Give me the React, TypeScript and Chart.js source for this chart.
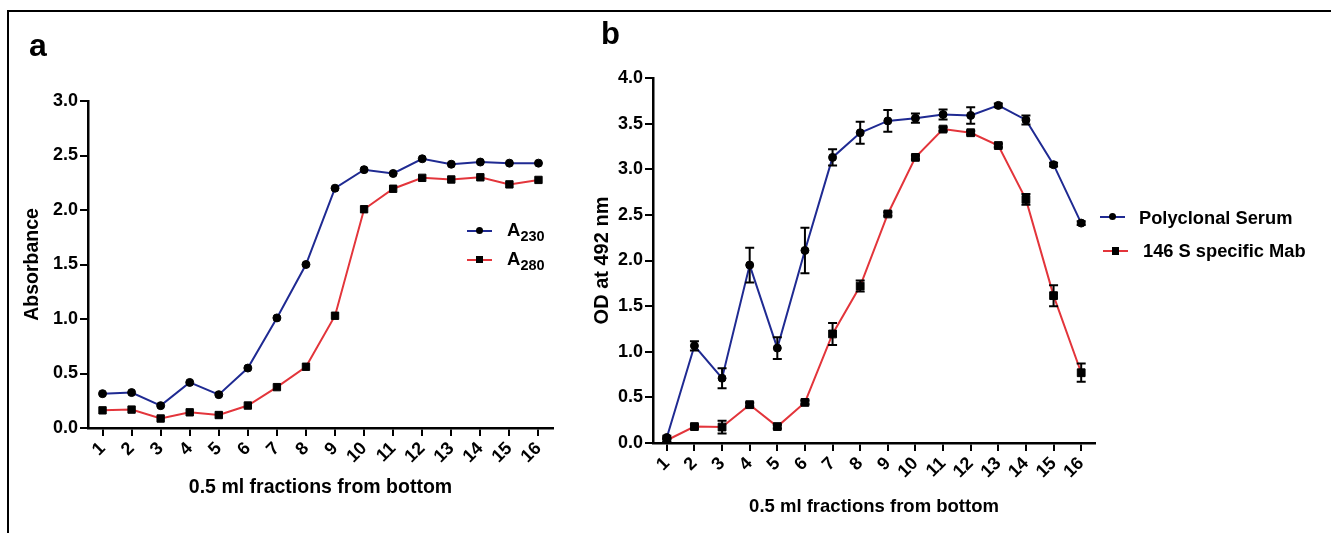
import React, { useEffect, useRef } from 'react';
import { Chart, registerables } from 'chart.js';

Chart.register(...registerables);

// ---------- data ----------
const fractions = ['1', '2', '3', '4', '5', '6', '7', '8', '9', '10', '11', '12', '13', '14', '15', '16'];

// panel a
const a230 = [0.315, 0.325, 0.205, 0.418, 0.306, 0.55, 1.01, 1.5, 2.2, 2.37, 2.335, 2.47, 2.42, 2.44, 2.43, 2.43];
const a280 = [0.162, 0.169, 0.087, 0.144, 0.119, 0.206, 0.375, 0.562, 1.03, 2.007, 2.195, 2.295, 2.28, 2.3, 2.235, 2.276];

// panel b
const polyclonal = [0.06, 1.065, 0.71, 1.95, 1.04, 2.11, 3.13, 3.4, 3.53, 3.56, 3.6, 3.59, 3.7, 3.54, 3.05, 2.41];
const polyclonalErr = [0.02, 0.05, 0.11, 0.19, 0.12, 0.25, 0.09, 0.12, 0.12, 0.05, 0.055, 0.09, 0.02, 0.05, 0.02, 0.02];
const mab = [0.03, 0.18, 0.175, 0.42, 0.18, 0.445, 1.195, 1.72, 2.51, 3.13, 3.44, 3.4, 3.26, 2.67, 1.615, 0.77];
const mabErr = [0.02, 0.02, 0.07, 0.02, 0.02, 0.02, 0.12, 0.06, 0.02, 0.02, 0.02, 0.02, 0.02, 0.06, 0.115, 0.1];

const BLUE = '#1f2a92';
const RED = '#e3353b';
const FONT = '"Liberation Sans", Arial, Helvetica, sans-serif';

// ---------- error bar plugin ----------
const errorBarPlugin = {
  id: 'errorBars',
  afterDatasetsDraw(chart: any) {
    const ctx = chart.ctx;
    const yScale = chart.scales.y;
    chart.data.datasets.forEach((ds: any, i: number) => {
      const errs: number[] | undefined = ds.errors;
      if (!errs) return;
      const meta = chart.getDatasetMeta(i);
      meta.data.forEach((pt: any, j: number) => {
        const e = errs[j];
        if (!e) return;
        const v = ds.data[j];
        const top = yScale.getPixelForValue(v + e);
        const bot = yScale.getPixelForValue(v - e);
        ctx.save();
        ctx.strokeStyle = '#000';
        ctx.lineWidth = 2;
        ctx.beginPath();
        ctx.moveTo(pt.x, top);
        ctx.lineTo(pt.x, bot);
        ctx.moveTo(pt.x - 4.5, top);
        ctx.lineTo(pt.x + 4.5, top);
        ctx.moveTo(pt.x - 4.5, bot);
        ctx.lineTo(pt.x + 4.5, bot);
        ctx.stroke();
        ctx.restore();
      });
    });
  },
};

type PanelOpts = {
  yMax: number;
  yTitle: string;
  yTitleSize: number;
  yTitlePad: number;
  xTitleSize: number;
  yWidth: number;
  xHeight: number;
  padding: { left: number; right: number; top: number; bottom: number };
  datasets: any[];
};

function makeConfig(o: PanelOpts): any {
  return {
    type: 'line',
    data: { labels: fractions, datasets: o.datasets },
    plugins: [errorBarPlugin],
    options: {
      animation: false,
      responsive: false,
      maintainAspectRatio: false,
      layout: { padding: o.padding },
      plugins: { legend: { display: false }, tooltip: { enabled: false } },
      elements: { line: { tension: 0 } },
      scales: {
        x: {
          type: 'category',
          offset: true,
          afterFit: (s: any) => {
            s.height = o.xHeight;
          },
          grid: {
            display: true,
            drawOnChartArea: false,
            drawTicks: true,
            tickLength: 8,
            color: '#000',
            lineWidth: 2,
            offset: false,
          },
          border: { display: true, color: '#000', width: 2.5 },
          ticks: {
            autoSkip: false,
            maxRotation: 45,
            minRotation: 45,
            padding: 2,
            color: '#000',
            font: { family: FONT, size: 18, weight: 'bold' },
          },
          title: {
            display: true,
            text: '0.5 ml fractions from bottom',
            color: '#000',
            padding: { top: 0, bottom: 0 },
            font: { family: FONT, size: o.xTitleSize, weight: 'bold' },
          },
        },
        y: {
          type: 'linear',
          min: 0,
          max: o.yMax,
          afterFit: (s: any) => {
            s.width = o.yWidth;
          },
          grid: {
            display: true,
            drawOnChartArea: false,
            drawTicks: true,
            tickLength: 8,
            color: '#000',
            lineWidth: 2,
          },
          border: { display: true, color: '#000', width: 2.5 },
          ticks: {
            stepSize: 0.5,
            padding: 2,
            color: '#000',
            font: { family: FONT, size: 18, weight: 'bold' },
            callback: (v: any) => Number(v).toFixed(1),
          },
          title: {
            display: true,
            text: o.yTitle,
            color: '#000',
            padding: { top: o.yTitlePad, bottom: 0 },
            font: { family: FONT, size: o.yTitleSize, weight: 'bold' },
          },
        },
      },
    },
  };
}

function ChartCanvas(props: { config: () => any; left: number; width: number; height: number }) {
  const ref = useRef<HTMLCanvasElement | null>(null);
  useEffect(() => {
    if (!ref.current) return;
    const chart = new Chart(ref.current, props.config());
    return () => chart.destroy();
  }, []);
  return (
    <canvas
      ref={ref}
      width={props.width}
      height={props.height}
      style={{ position: 'absolute', left: props.left, top: 0, width: props.width, height: props.height }}
    />
  );
}

const panelA = () =>
  makeConfig({
    yMax: 3,
    yTitle: 'Absorbance',
    yTitleSize: 19.5,
    yTitlePad: 1,
    xTitleSize: 19.5,
    yWidth: 68,
    xHeight: 71,
    padding: { left: 20, right: 37, top: 101, bottom: 34 },
    datasets: [
      {
        label: 'A230',
        data: a230,
        borderColor: BLUE,
        borderWidth: 2,
        pointStyle: 'circle',
        pointRadius: 4,
        pointBackgroundColor: '#000',
        pointBorderColor: '#000',
        pointBorderWidth: 1,
      },
      {
        label: 'A280',
        data: a280,
        borderColor: RED,
        borderWidth: 2,
        pointStyle: 'rect',
        pointRadius: 5.2,
        pointBackgroundColor: '#000',
        pointBorderColor: '#000',
        pointBorderWidth: 1,
      },
    ],
  });

const panelB = () =>
  makeConfig({
    yMax: 4,
    yTitle: 'OD at 492 nm',
    yTitleSize: 20,
    yTitlePad: 0,
    xTitleSize: 18.5,
    yWidth: 63,
    xHeight: 75,
    padding: { left: 0, right: 236, top: 78, bottom: 15 },
    datasets: [
      {
        label: 'Polyclonal Serum',
        data: polyclonal,
        errors: polyclonalErr,
        borderColor: BLUE,
        borderWidth: 2,
        pointStyle: 'circle',
        pointRadius: 4,
        pointBackgroundColor: '#000',
        pointBorderColor: '#000',
        pointBorderWidth: 1,
      },
      {
        label: '146 S specific Mab',
        data: mab,
        errors: mabErr,
        borderColor: RED,
        borderWidth: 2,
        pointStyle: 'rect',
        pointRadius: 5.5,
        pointBackgroundColor: '#000',
        pointBorderColor: '#000',
        pointBorderWidth: 1,
      },
    ],
  });

function LegendLine(p: { x: number; y: number; w: number; color: string; marker: 'circle' | 'square'; size: number }) {
  return (
    <>
      <div style={{ position: 'absolute', left: p.x, top: p.y - 1, width: p.w, height: 2, background: p.color }} />
      <div
        style={{
          position: 'absolute',
          left: p.x + p.w / 2 - p.size / 2,
          top: p.y - p.size / 2,
          width: p.size,
          height: p.size,
          background: '#000',
          borderRadius: p.marker === 'circle' ? '50%' : 0,
        }}
      />
    </>
  );
}

const textStyle = (left: number, top: number, size: number): React.CSSProperties => ({
  position: 'absolute',
  left,
  top,
  fontFamily: FONT,
  fontWeight: 'bold',
  fontSize: size,
  lineHeight: `${size}px`,
  whiteSpace: 'nowrap',
  color: '#000',
});

export default function App() {
  return (
    <div style={{ position: 'absolute', left: 0, top: 0, width: 1331, height: 533, background: '#fff', overflow: 'hidden' }}>
      {/* frame */}
      <div style={{ position: 'absolute', left: 7, top: 10, width: 1324, height: 2, background: '#000' }} />
      <div style={{ position: 'absolute', left: 7, top: 10, width: 2, height: 523, background: '#000' }} />

      <ChartCanvas config={panelA} left={0} width={590} height={533} />
      <ChartCanvas config={panelB} left={590} width={741} height={533} />

      {/* panel labels */}
      <div style={{ ...textStyle(29, 29, 32), fontWeight: 900 }}>a</div>
      <div style={{ ...textStyle(601, 18, 31), fontWeight: 900 }}>b</div>

      {/* legend a */}
      <LegendLine x={467} y={230.5} w={25} color={BLUE} marker="circle" size={7} />
      <LegendLine x={467} y={259.5} w={25} color={RED} marker="square" size={7.5} />
      <div style={textStyle(507, 221, 18.5)}>
        A<span style={{ fontSize: 14.5, position: 'relative', top: 5 }}>230</span>
      </div>
      <div style={textStyle(507, 250, 18.5)}>
        A<span style={{ fontSize: 14.5, position: 'relative', top: 5 }}>280</span>
      </div>

      {/* legend b */}
      <LegendLine x={1100} y={216.7} w={25} color={BLUE} marker="circle" size={7} />
      <LegendLine x={1103} y={251} w={25} color={RED} marker="square" size={7.5} />
      <div style={textStyle(1139, 208.5, 18.3)}>Polyclonal Serum</div>
      <div style={textStyle(1143, 242, 18.3)}>146 S specific Mab</div>
    </div>
  );
}
